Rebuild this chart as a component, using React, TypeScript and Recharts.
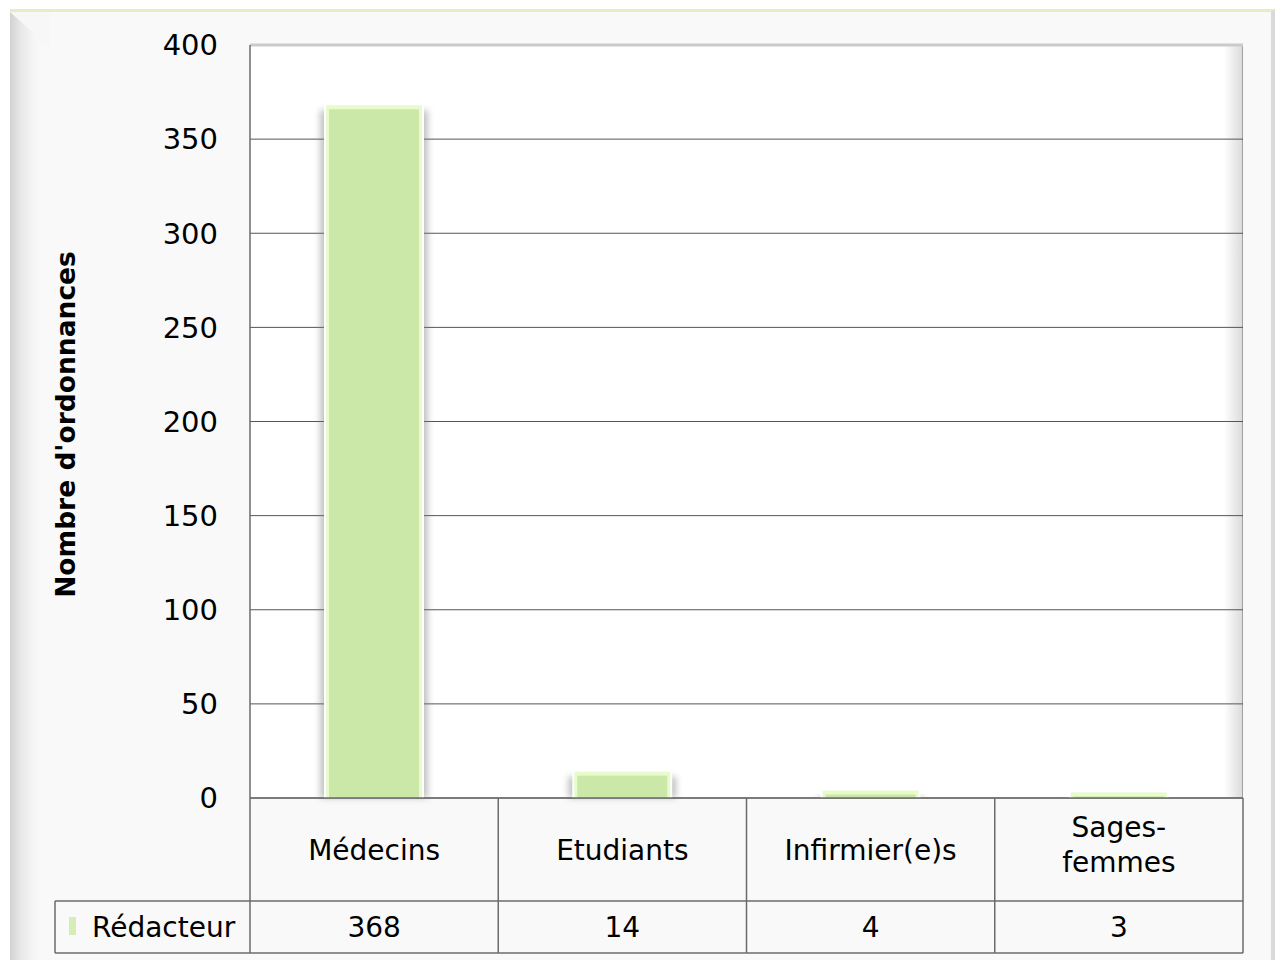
import React from 'react';
import { BarChart, Bar, XAxis, YAxis, CartesianGrid, ReferenceLine } from 'recharts';

const categories = ['Médecins', 'Etudiants', 'Infirmier(e)s', 'Sages-femmes'];
const redacteur = [368, 14, 4, 3];
const yTicks = [0, 50, 100, 150, 200, 250, 300, 350, 400];
const seriesName = 'Rédacteur';
const yTitle = "Nombre d'ordonnances";

const data = categories.map((c, i) => ({ categorie: c, redacteur: redacteur[i] }));

const FONT = '"DejaVu Sans", Verdana, sans-serif';
const LINE = '#6b6b6b';
const W = 1279;
const H = 960;
const M = { top: 45, right: 36, bottom: 7, left: 0 };
const Y_W = 250;
const X_H = 155;
const ROW = 103; // height of the category row in the data table
const LEG_X = 55; // left edge of the legend cell
const PLOT_W = W - M.left - M.right - Y_W;
const PLOT_H = H - M.top - M.bottom - X_H;

// category cell + value cell of the data table, drawn under each band
function TableTick(props: any) {
  const { x, y, payload } = props;
  const i = payload.index ?? categories.indexOf(payload.value);
  const half = payload.offset || PLOT_W / categories.length / 2;
  const l = x - half;
  const r = x + half;
  const label = String(payload.value);
  const cut = label.indexOf('-');
  const lines = cut > 0 ? [label.slice(0, cut + 1), label.slice(cut + 1)] : [label];
  const txt = { fontFamily: FONT, fontSize: 28, fill: '#000', textAnchor: 'middle' as const };

  return (
    <g>
      {i === 0 && (
        <g>
          <line x1={l} y1={y} x2={l} y2={y + X_H} stroke={LINE} strokeWidth={1.5} />
          <line x1={LEG_X} y1={y + ROW} x2={l} y2={y + ROW} stroke={LINE} strokeWidth={1.5} />
          <line x1={LEG_X} y1={y + X_H} x2={l} y2={y + X_H} stroke={LINE} strokeWidth={1.5} />
          <line x1={LEG_X} y1={y + ROW} x2={LEG_X} y2={y + X_H} stroke={LINE} strokeWidth={1.5} />
          <rect x={LEG_X + 14} y={y + ROW + 16} width={7} height={18} fill="#d5edb6" />
          <text x={LEG_X + 37} y={y + 139} fontFamily={FONT} fontSize={28} fill="#000">
            {seriesName}
          </text>
        </g>
      )}
      <line x1={r} y1={y} x2={r} y2={y + X_H} stroke={LINE} strokeWidth={1.5} />
      <line x1={l} y1={y + ROW} x2={r} y2={y + ROW} stroke={LINE} strokeWidth={1.5} />
      <line x1={l} y1={y + X_H} x2={r} y2={y + X_H} stroke={LINE} strokeWidth={1.5} />
      {lines.length === 1 ? (
        <text x={x} y={y + 62} {...txt}>{lines[0]}</text>
      ) : (
        <text x={x} y={y + 39} {...txt}>
          <tspan x={x} y={y + 39}>{lines[0]}</tspan>
          <tspan x={x} y={y + 74}>{lines[1]}</tspan>
        </text>
      )}
      <text x={x} y={y + 139} {...txt}>{redacteur[i]}</text>
    </g>
  );
}

// bar with a pale rim and a soft grey side shadow
function ShadedBar(props: any) {
  const { x, y, width, height, index } = props;
  if (!height || height <= 0) return null;
  const id = `barShadow${index}`;
  return (
    <g>
      <defs>
        <filter id={id} x="-30%" y="-30%" width="160%" height="160%">
          <feGaussianBlur stdDeviation="3" />
        </filter>
      </defs>
      <rect x={x - 6} y={y + 5} width={width + 12} height={Math.max(0, height - 5)} fill="#7a7a7a" opacity={0.45} filter={`url(#${id})`} />
      <rect x={x - 2} y={y - 1} width={width + 4} height={height + 1} fill="#ffffff" />
      <rect x={x} y={y} width={width} height={height} fill="#e8fbcd" />
      <rect x={x + 3} y={y + 4} width={Math.max(0, width - 6)} height={Math.max(0, height - 4)} fill="#cce8a8" />
    </g>
  );
}

function YTitle(p: any) {
  const vb = p.viewBox ?? { x: 0, y: M.top, width: Y_W, height: PLOT_H };
  const cx = 65;
  const cy = vb.y + vb.height / 2 + 3;
  return (
    <text
      x={cx}
      y={cy}
      transform={`rotate(-90, ${cx}, ${cy})`}
      textAnchor="middle"
      dominantBaseline="central"
      fontFamily={FONT}
      fontWeight="bold"
      fontSize={26.5}
      fill="#000"
    >
      {yTitle}
    </text>
  );
}

export default function App() {
  return (
    <div style={{ position: 'absolute', left: 0, top: 0, width: W, height: H, background: '#fff', overflow: 'hidden' }}>
      {/* outer frame */}
      <div
        style={{
          position: 'absolute', left: 10, top: 9, width: 1261, height: 960,
          background: 'linear-gradient(to right, #d2d2d2 0px, #e6e6e6 10px, #f4f4f4 22px, #f9f9f9 32px)',
          borderTop: '3px solid #e3edc6', borderRight: '4px solid #d9d9d9',
        }}
      />
      <div
        style={{
          position: 'absolute', left: 10, top: 12, width: 40, height: 36,
          background: '#f7f7f7', clipPath: 'polygon(0 0, 100% 0, 100% 100%)',
        }}
      />
      {/* plot backdrop */}
      <div
        style={{
          position: 'absolute', left: M.left + Y_W, top: M.top, width: PLOT_W, height: PLOT_H,
          background: 'linear-gradient(to right, #ffffff calc(100% - 18px), #dcdcdc 100%)',
          borderRight: '1px solid #a0a0a0', boxSizing: 'border-box',
        }}
      />
      <div style={{ position: 'absolute', left: 0, top: 0 }}>
        <BarChart width={W} height={H} data={data} margin={M}>
          <CartesianGrid horizontal vertical={false} stroke="#555555" strokeWidth={1} />
          <XAxis
            dataKey="categorie"
            height={X_H}
            interval={0}
            tickLine={false}
            tickSize={0}
            tickMargin={0}
            axisLine={{ stroke: LINE, strokeWidth: 1.5 }}
            tick={<TableTick />}
          />
          <YAxis
            width={Y_W}
            domain={[0, 400]}
            ticks={yTicks}
            interval={0}
            tickLine={false}
            tickSize={0}
            tickMargin={32}
            axisLine={{ stroke: LINE, strokeWidth: 1.5 }}
            tick={{ fontFamily: FONT, fontSize: 29, fill: '#000' }}
            label={{ content: (p: any) => <YTitle {...p} /> }}
          />
          <ReferenceLine y={400} stroke="#cbcbcb" strokeWidth={3} />
          <Bar dataKey="redacteur" name={seriesName} barSize={96} shape={<ShadedBar />} isAnimationActive={false} />
        </BarChart>
      </div>
    </div>
  );
}
